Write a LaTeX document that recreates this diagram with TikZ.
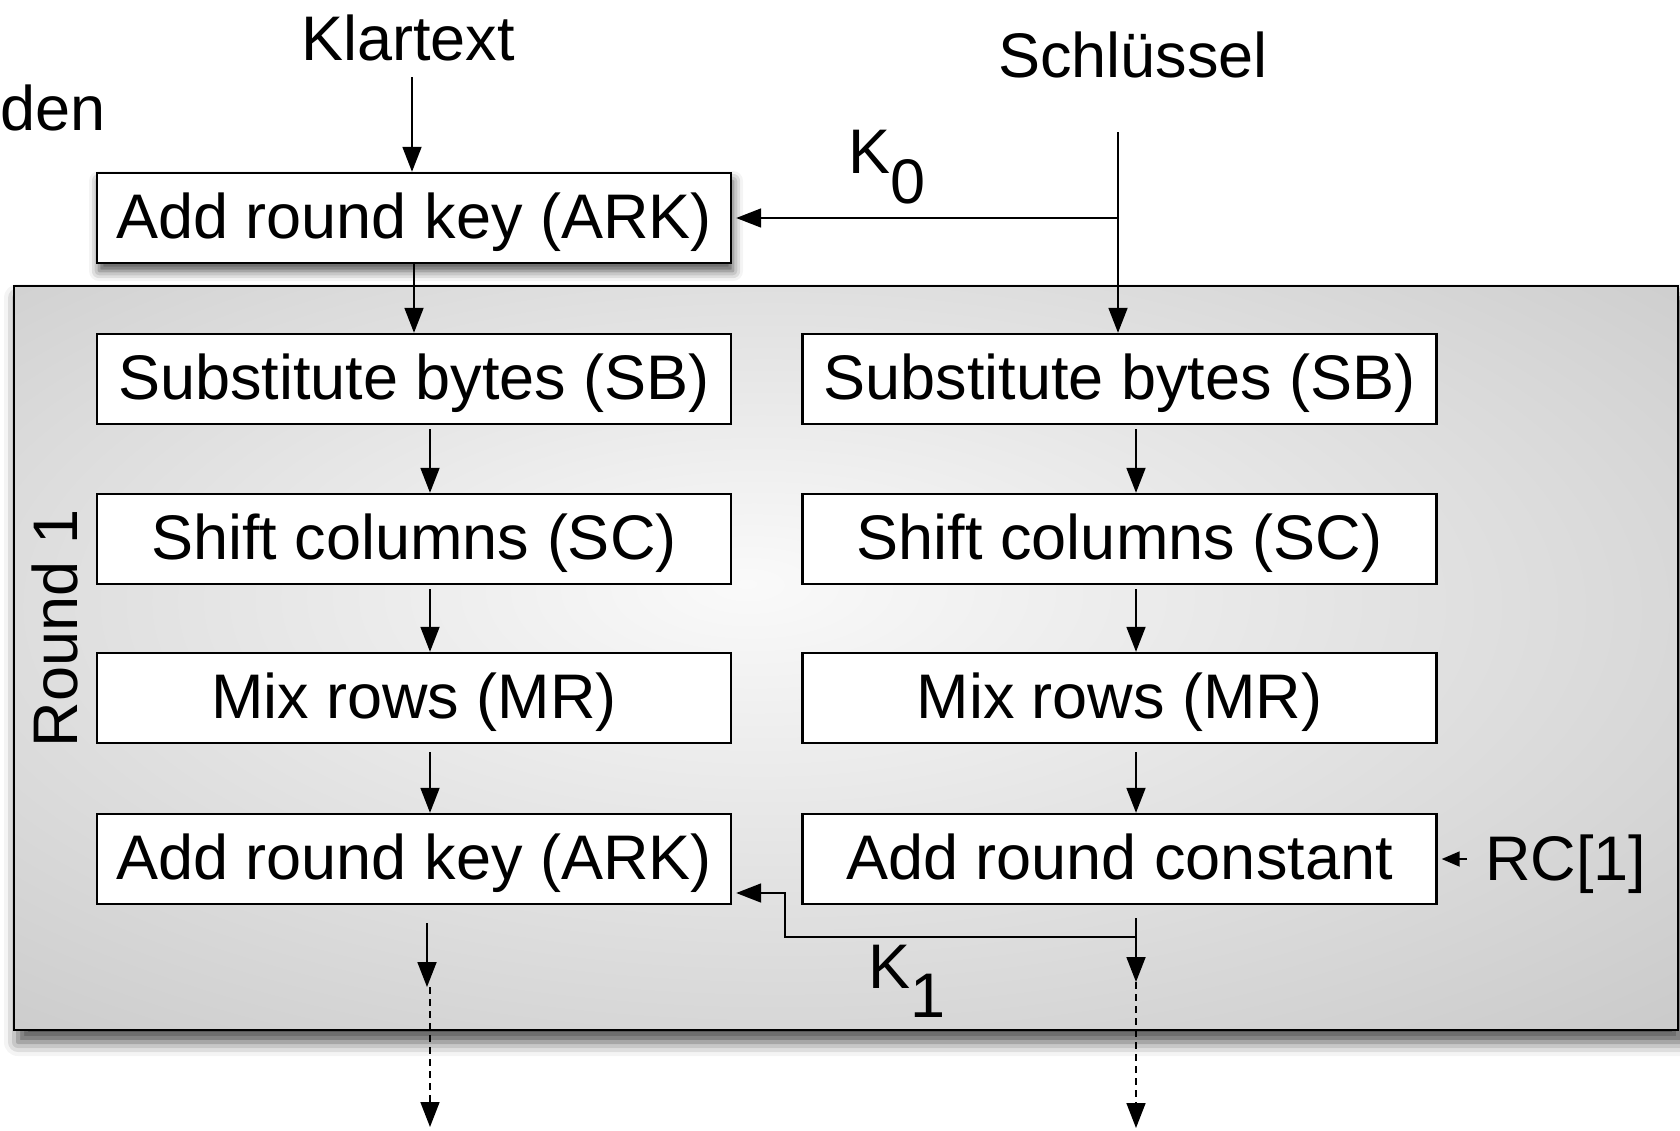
\documentclass[tikz,border=0pt]{standalone}
\usepackage{fontspec}
\setmainfont{Liberation Sans}
\usetikzlibrary{arrows.meta,shadows.blur,calc}
\pgfdeclareradialshading{roundshade}{\pgfpoint{-3bp}{5bp}}{color(0bp)=(white!98!black); color(10bp)=(white!93!black); color(45bp)=(black!24); color(75bp)=(black!32)}
\begin{document}
\begin{tikzpicture}[x=0.5pt,y=-0.5pt,
  txt/.style={font=\fontsize{31.5pt}{36pt}\selectfont, inner sep=0pt},
  box/.style={txt, draw, line width=1.2pt, fill=white, minimum width=317pt, minimum height=45pt, text height=26.8pt, text depth=6.6pt},
  arr/.style={line width=0.9pt, -{Triangle[length=12.5pt,width=9.5pt]}},
  smallarr/.style={line width=0.9pt, -{Triangle[length=9pt,width=7.5pt]}},
  dasharr/.style={line width=0.8pt, dash pattern=on 3.5pt off 2.5pt, -{Triangle[length=12.5pt,width=9.5pt]}},
  roundbox/.style={draw, line width=1pt, shading=roundshade, inner sep=0pt,
    blur shadow={shadow xshift=2pt, shadow yshift=-6pt, shadow blur radius=7pt, shadow opacity=70}}]
\useasboundingbox (0,0) rectangle (1680,1130);

% round frame
\node[roundbox, minimum width=832pt, minimum height=372pt] (round) at (846,658) {};

% texts
\node[txt, anchor=base] (klar) at (408,60) {Klartext};
\node[txt, anchor=base west] (den) at (0,130) {den};
\node[txt, anchor=base] (key) at (1133,77) {Schlüssel};
\node[txt, anchor=base west] (k0) at (848,173) {K\raisebox{-15pt}{0}};
\node[txt, anchor=base west] (k1) at (868,988) {K\raisebox{-14.5pt}{1}};
\node[txt, anchor=base west] (rc) at (1485,880) {RC[1]};
\node[txt, rotate=90, anchor=base] (rlabel) at (77,628) {Round 1};

% boxes
\node[box, blur shadow={shadow xshift=1pt, shadow yshift=-4pt, shadow blur radius=5pt, shadow opacity=70}] (ark0) at (414,218) {Add round key (ARK)};
\node[box] (sb1) at (414,379) {Substitute bytes (SB)};
\node[box] (sc1) at (414,539) {Shift columns (SC)};
\node[box] (mr1) at (414,698) {Mix rows (MR)};
\node[box] (ark1) at (414,859) {Add round key (ARK)};
\node[box] (sb2) at (1119.5,379) {Substitute bytes (SB)};
\node[box] (sc2) at (1119.5,539) {Shift columns (SC)};
\node[box] (mr2) at (1119.5,698) {Mix rows (MR)};
\node[box] (arc) at (1119.5,859) {Add round constant};

% coordinates
\coordinate (keytop) at (1118,132);
\coordinate (j1) at (1136,937);
\coordinate (o1a) at (427,923);
\coordinate (o1b) at (427,987);
\coordinate (o1c) at (430,987);
\coordinate (out1) at (430,1127);
\coordinate (o2a) at (1136,918);
\coordinate (o2b) at (1136,982);
\coordinate (out2) at (1136,1128);

% connectors
\draw[arr] ([xshift=2pt,yshift=-8pt]klar.south) -- ([xshift=-1pt]ark0.north);
\draw[arr] (keytop) -- (keytop |- sb2.north);
\draw[arr, shorten >=2pt] (keytop |- ark0.east) -- (ark0.east);
\draw[arr] (ark0.south) -- (sb1.north);
\draw[arr] ([xshift=8pt,yshift=-2pt]sb1.south) -- ([xshift=8pt]sc1.north);
\draw[arr] ([xshift=8pt,yshift=-2pt]sc1.south) -- ([xshift=8pt]mr1.north);
\draw[arr] ([xshift=8pt,yshift=-4pt]mr1.south) -- ([xshift=8pt]ark1.north);
\draw[arr] ([xshift=8.25pt,yshift=-2pt]sb2.south) -- ([xshift=8.25pt]sc2.north);
\draw[arr] ([xshift=8.25pt,yshift=-2pt]sc2.south) -- ([xshift=8.25pt]mr2.north);
\draw[arr] ([xshift=8.25pt,yshift=-4pt]mr2.south) -- ([xshift=8.25pt]arc.north);
\draw[arr] (o1a) -- (o1b);
\draw[dasharr] (o1c) -- (out1);
\draw[arr] (o2a) -- (o2b);
\draw[dasharr] (o2b) -- (out2);
\draw[arr, shorten >=2pt] (j1) -| ([xshift=26.5pt,yshift=-17pt]ark1.east) -- ([yshift=-17pt]ark1.east);
\draw[smallarr, shorten >=2pt] ([xshift=-9pt]rc.west |- arc.east) -- (arc.east);
\end{tikzpicture}
\end{document}
